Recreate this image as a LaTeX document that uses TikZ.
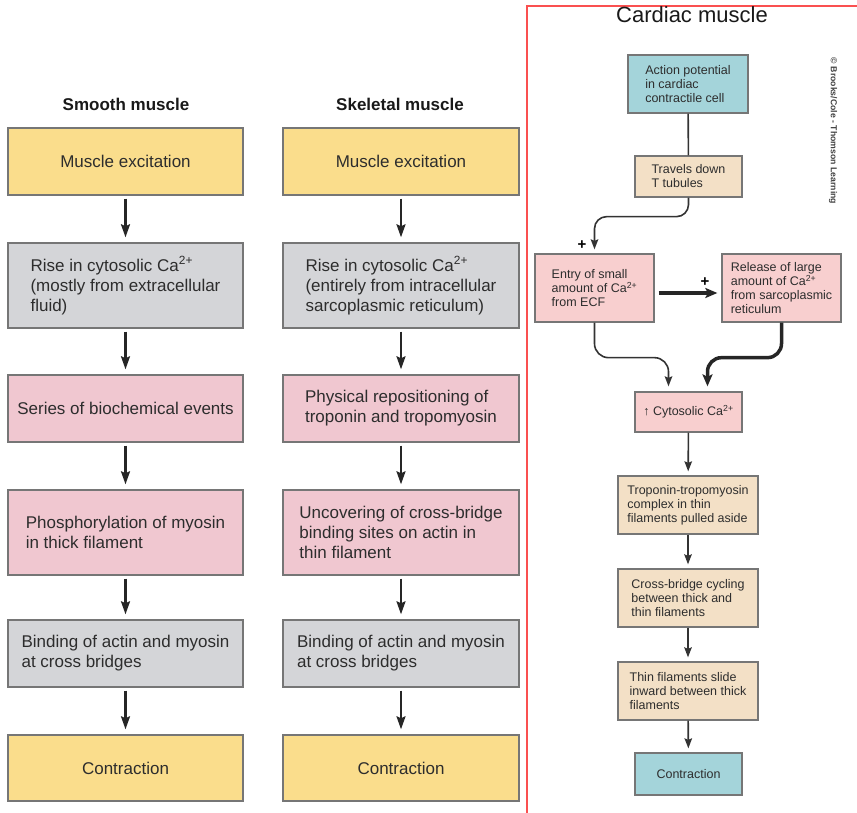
\documentclass[tikz,border=0pt]{standalone}
\usepackage{fontspec}
\setmainfont{Liberation Sans}
\usetikzlibrary{arrows.meta}
\definecolor{yel}{RGB}{250,221,140}
\definecolor{gry}{RGB}{212,213,216}
\definecolor{pnk}{RGB}{240,199,208}
\definecolor{cpnk}{RGB}{248,207,207}
\definecolor{tan}{RGB}{243,224,198}
\definecolor{teal}{RGB}{164,212,218}
\definecolor{bord}{RGB}{118,118,118}
\definecolor{txt}{RGB}{45,45,45}
\definecolor{framered}{RGB}{250,80,80}
\begin{document}
\begin{tikzpicture}[x=1pt,y=-1pt,
  lbox/.style={draw=bord, line width=1.4pt, inner sep=0pt, align=left, text=txt,
    font=\fontsize{17}{20}\selectfont},
  cbox/.style={draw=bord, line width=1.3pt, inner sep=0pt, align=left, text=txt,
    font=\fontsize{12.5}{14}\selectfont},
  larrow/.style={-{Stealth[length=13pt,width=9pt,inset=2pt]}, line width=2.2pt, black!85,
    shorten <=3pt, shorten >=5pt},
  carrow/.style={-{Stealth[length=10pt,width=7.5pt,inset=1.5pt]}, line width=1.6pt, black!80},
  tarrow/.style={-{Stealth[length=12pt,width=10pt,inset=2.5pt]}, line width=3.2pt, black!85},
  hdr/.style={font=\bfseries\fontsize{17}{20}\selectfont, text=black!90},
  plus/.style={font=\bfseries\fontsize{15}{15}\selectfont, text=black}
]
\useasboundingbox (0,0) rectangle (857,812);

% red frame
\draw[framered, line width=2pt] (527,813) -- (527,6) -- (858,6);

% headers
\node[hdr] (hs) at (126,104) {Smooth muscle};
\node[hdr] (hk) at (400,104) {Skeletal muscle};
\node[font=\fontsize{22}{24}\selectfont, text=black!90] (hc) at (692,15) {Cardiac muscle};

% smooth column
\node[lbox, fill=yel, minimum width=235pt, minimum height=67pt] (s1) at (125.5,161.5) {Muscle excitation};
\node[lbox, fill=gry, minimum width=235pt, minimum height=85pt] (s2) at (125.5,285.5) {Rise in cytosolic Ca\textsuperscript{2+}\\(mostly from extracellular\\fluid)};
\node[lbox, fill=pnk, minimum width=235pt, minimum height=67pt] (s3) at (125.5,408.5) {Series of biochemical events};
\node[lbox, fill=pnk, minimum width=235pt, minimum height=85pt] (s4) at (125.5,532.5) {Phosphorylation of myosin\\in thick filament};
\node[lbox, fill=gry, minimum width=235pt, minimum height=67pt] (s5) at (125.5,653.5) {Binding of actin and myosin\\at cross bridges};
\node[lbox, fill=yel, minimum width=235pt, minimum height=66pt] (s6) at (125.5,768) {Contraction};

% skeletal column
\node[lbox, fill=yel, minimum width=236pt, minimum height=67pt] (k1) at (401,161.5) {Muscle excitation};
\node[lbox, fill=gry, minimum width=236pt, minimum height=85pt] (k2) at (401,285.5) {Rise in cytosolic Ca\textsuperscript{2+}\\(entirely from intracellular\\sarcoplasmic reticulum)};
\node[lbox, fill=pnk, minimum width=236pt, minimum height=67pt] (k3) at (401,408.5) {Physical repositioning of\\troponin and tropomyosin};
\node[lbox, fill=pnk, minimum width=236pt, minimum height=85pt] (k4) at (401,532.5) {Uncovering of cross-bridge\\binding sites on actin in\\thin filament};
\node[lbox, fill=gry, minimum width=236pt, minimum height=67pt] (k5) at (401,653.5) {Binding of actin and myosin\\at cross bridges};
\node[lbox, fill=yel, minimum width=236pt, minimum height=66pt] (k6) at (401,768) {Contraction};

\foreach \a/\b in {s1/s2,s2/s3,s3/s4,s4/s5,s5/s6,k1/k2,k2/k3,k3/k4,k4/k5,k5/k6}
  \draw[larrow] (\a) -- (\b);

% cardiac column
\node[cbox, fill=teal, minimum width=120pt, minimum height=58pt] (ap) at (688,84) {Action potential\\in cardiac\\contractile cell};
\node[cbox, fill=tan, minimum width=107pt, minimum height=41pt] (tt) at (688.5,176.5) {Travels down\\T tubules};
\node[cbox, fill=cpnk, minimum width=119pt, minimum height=68pt] (en) at (594.5,288) {Entry of small\\amount of Ca\textsuperscript{2+}\\from ECF};
\node[cbox, fill=cpnk, minimum width=119pt, minimum height=68pt] (re) at (781.5,288) {Release of large\\amount of Ca\textsuperscript{2+}\\from sarcoplasmic\\reticulum};
\node[cbox, fill=cpnk, minimum width=107pt, minimum height=40pt] (cy) at (688.5,412) {↑ Cytosolic Ca\textsuperscript{2+}};
\node[cbox, fill=tan, minimum width=140pt, minimum height=58pt] (tr) at (688,505) {Troponin-tropomyosin\\complex in thin\\filaments pulled aside};
\node[cbox, fill=tan, minimum width=140pt, minimum height=58pt] (cb) at (688,598) {Cross-bridge cycling\\between thick and\\thin filaments};
\node[cbox, fill=tan, minimum width=140pt, minimum height=58pt] (tf) at (688,691) {Thin filaments slide\\inward between thick\\filaments};
\node[cbox, fill=teal, minimum width=107pt, minimum height=42pt] (co) at (688.5,774) {Contraction};

\draw[line width=1.6pt, black!80] (ap) -- (tt);
\draw[carrow, rounded corners=12pt, shorten >=4pt] (tt.south) -- ++(0,19) -| (en.north);
\draw[tarrow, shorten <=4pt, shorten >=4pt] ([yshift=-5pt]en.east) -- ([yshift=-5pt]re.west);
\draw[carrow, rounded corners=14pt, shorten >=5pt] (en.south) -- ++(0,35) -| ([xshift=-20pt]cy.north);
\draw[tarrow, line width=3.5pt, rounded corners=14pt, shorten >=5pt] (re.south) -- ++(0,35) -| ([xshift=19pt]cy.north);
\foreach \a/\b in {cy/tr,tr/cb,cb/tf,tf/co}
  \draw[carrow, shorten >=4pt] (\a) -- (\b);

\node[plus] (p1) at (582,245) {+};
\node[plus] (p2) at (705,282) {+};

\node[rotate=-90, font=\bfseries\fontsize{8.7}{10}\selectfont, text=black!75] (cr) at (833,131) {© Brooks/Cole - Thomson Learning};
\end{tikzpicture}
\end{document}
